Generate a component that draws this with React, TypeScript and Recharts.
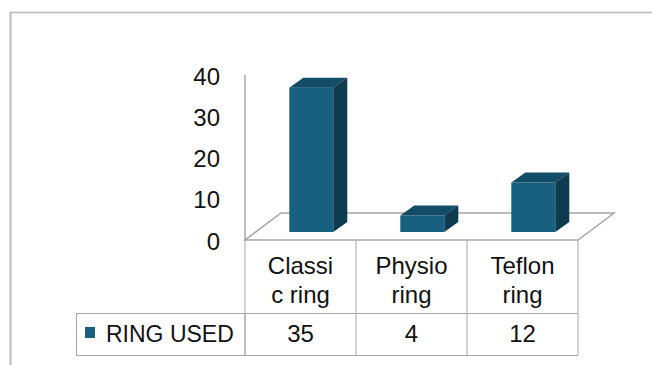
import { BarChart, Bar, XAxis, YAxis, Customized } from "recharts";

// ── data ────────────────────────────────────────────────────────────────────
const categories = ["Classic ring", "Physio ring", "Teflon ring"];
const categoryLines = [
  ["Classi", "c ring"],
  ["Physio", "ring"],
  ["Teflon", "ring"],
];
const ringUsed = [35, 4, 12];
const seriesName = "RING USED";
const yTicks = [0, 10, 20, 30, 40];

const data = categories.map((name, i) => ({ name, value: ringUsed[i] }));

// ── layout ──────────────────────────────────────────────────────────────────
const W = 652;
const H = 365;
const PLOT_L = 245;
const PLOT_R = 578;
const PLOT_T = 75;
const PLOT_B = 240;
const Y_AXIS_W = 60;
const X_AXIS_H = 115;
const BAND = (PLOT_R - PLOT_L) / categories.length;
const ROW1_B = 314;
const ROW2_B = 355;

// 3d projection
const FLOOR_DX = 36;
const FLOOR_DY = -27;
const BAR_SHIFT_X = 11;
const BAR_SHIFT_Y = -8;
const BAR_DX = 14;
const BAR_DY = -10;

const FONT = "'Liberation Sans', Arial, sans-serif";
const FRONT = "#17607f";
const TOP = "#124c66";
const SIDE = "#0d3b50";
const LINE = "#a6a6a6";
const TEXT = "#111";

const Bar3D = (props: { x?: number; y?: number; width?: number; height?: number }) => {
  const { x = 0, y = 0, width = 0, height = 0 } = props;
  const fx = x + BAR_SHIFT_X;
  const fy = y + BAR_SHIFT_Y;
  const fb = fy + height;
  return (
    <g>
      <rect x={fx} y={fy} width={width} height={height} fill={FRONT} />
      <polygon
        points={`${fx},${fy} ${fx + width},${fy} ${fx + width + BAR_DX},${fy + BAR_DY} ${fx + BAR_DX},${fy + BAR_DY}`}
        fill={TOP}
      />
      <polygon
        points={`${fx + width},${fy} ${fx + width + BAR_DX},${fy + BAR_DY} ${fx + width + BAR_DX},${fb + BAR_DY} ${fx + width},${fb}`}
        fill={SIDE}
      />
    </g>
  );
};

const Floor = () => (
  <g>
    <line x1={10.5} y1={12} x2={10.5} y2={H} stroke="#b8b8b8" strokeWidth={2} />
    <line x1={10} y1={12.5} x2={W} y2={12.5} stroke="#b8b8b8" strokeWidth={1.5} />
    <polygon
      points={`${PLOT_L},${PLOT_B} ${PLOT_R},${PLOT_B} ${PLOT_R + FLOOR_DX},${PLOT_B + FLOOR_DY} ${PLOT_L + FLOOR_DX},${PLOT_B + FLOOR_DY}`}
      fill="none"
      stroke={LINE}
      strokeWidth={1.5}
    />
  </g>
);

const LegendCell = () => (
  <g>
    <rect
      x={76.5}
      y={ROW1_B - 0.5}
      width={PLOT_L - 76.5}
      height={ROW2_B - ROW1_B + 1}
      fill="none"
      stroke={LINE}
    />
    <rect x={85} y={327} width={10} height={11} fill={FRONT} />
    <text x={106} y={333.5} dominantBaseline="central" fontFamily={FONT} fontSize={23} fill={TEXT}>
      {seriesName}
    </text>
  </g>
);

const TableTick = (props: { x?: number; y?: number; payload?: { index: number } }) => {
  const { x = 0, y = 0, payload } = props;
  const i = payload?.index ?? 0;
  const left = x - BAND / 2;
  const right = x + BAND / 2;
  const lines = categoryLines[i];
  return (
    <g>
      {i === 0 && <line x1={left} y1={y} x2={left} y2={ROW2_B} stroke={LINE} />}
      <line x1={right} y1={y} x2={right} y2={ROW2_B} stroke={LINE} />
      <line x1={left} y1={ROW1_B - 0.5} x2={right} y2={ROW1_B - 0.5} stroke={LINE} />
      <line x1={left} y1={ROW2_B + 0.5} x2={right} y2={ROW2_B + 0.5} stroke={LINE} />
      {lines.map((t, k) => (
        <text
          key={k}
          x={x}
          y={274 + k * 29}
          textAnchor="middle"
          fontFamily={FONT}
          fontSize={24}
          fill={TEXT}
        >
          {t}
        </text>
      ))}
      <text
        x={x}
        y={333.5}
        textAnchor="middle"
        dominantBaseline="central"
        fontFamily={FONT}
        fontSize={24}
        fill={TEXT}
      >
        {ringUsed[i]}
      </text>
    </g>
  );
};

export default function App() {
  return (
    <div style={{ position: "absolute", left: 0, top: 0, width: W, height: H, background: "#fff" }}>
      <BarChart
        width={W}
        height={H}
        data={data}
        barCategoryGap="30%"
        margin={{
          top: PLOT_T,
          right: W - PLOT_R,
          left: PLOT_L - Y_AXIS_W,
          bottom: H - PLOT_B - X_AXIS_H,
        }}
      >
        <Customized component={Floor} />
        <XAxis
          dataKey="name"
          height={X_AXIS_H}
          axisLine={false}
          tickLine={false}
          tickSize={0}
          tickMargin={0}
          interval={0}
          tick={<TableTick />}
        />
        <YAxis
          width={Y_AXIS_W}
          domain={[0, 40]}
          ticks={yTicks}
          interval={0}
          tickLine={false}
          tickSize={0}
          tickMargin={25}
          axisLine={{ stroke: LINE, strokeWidth: 1.5 }}
          tick={{ fontFamily: FONT, fontSize: 24, fill: TEXT, dy: 1 }}
        />
        <Bar dataKey="value" shape={<Bar3D />} isAnimationActive={false} />
        <Customized component={LegendCell} />
      </BarChart>
    </div>
  );
}
